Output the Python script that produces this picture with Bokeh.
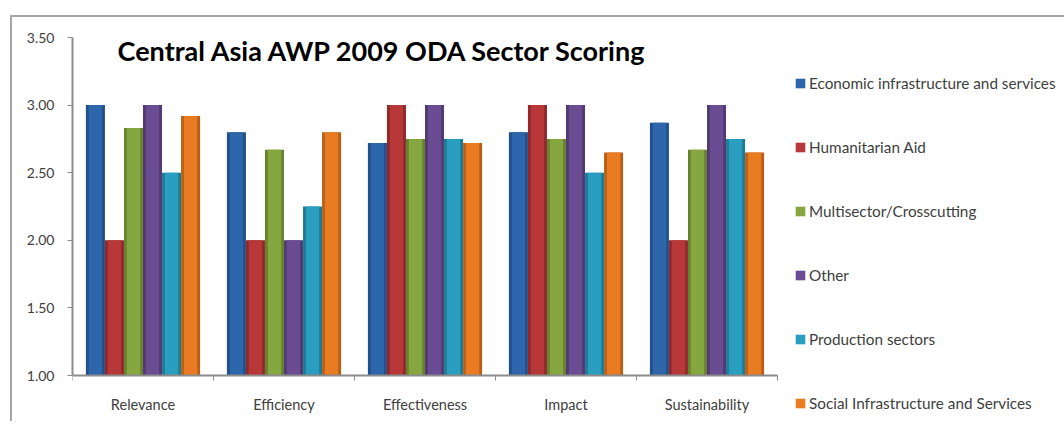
from bokeh.plotting import figure
from bokeh.models import (Range1d, FixedTicker, Legend, LegendItem, Label,
                          ColumnDataSource, NumeralTickFormatter)
from bokeh.layouts import column
from bokeh.embed import file_html
from bokeh.resources import INLINE

title = "Central Asia AWP 2009 ODA Sector Scoring"
categories = ["Relevance", "Efficiency", "Effectiveness", "Impact", "Sustainability"]
series_names = ["Economic infrastructure and services", "Humanitarian Aid",
                "Multisector/Crosscutting", "Other", "Production sectors",
                "Social Infrastructure and Services"]
economic = [3.00, 2.80, 2.72, 2.80, 2.87]
humanitarian = [2.00, 2.00, 3.00, 3.00, 2.00]
multisector = [2.83, 2.67, 2.75, 2.75, 2.67]
other = [3.00, 2.00, 3.00, 3.00, 3.00]
production = [2.50, 2.25, 2.75, 2.50, 2.75]
social = [2.92, 2.80, 2.72, 2.65, 2.65]
series_values = [economic, humanitarian, multisector, other, production, social]
y_ticks = [1.0, 1.5, 2.0, 2.5, 3.0, 3.5]
y_min, y_max = 1.0, 3.5

colors = ["#2E66AC", "#B8383A", "#86A63F", "#6A4C92", "#2A9EBE", "#E97C22"]
dark = ["#22508A", "#8E2A2C", "#68822F", "#523A72", "#1F7C96", "#B95F17"]

FONT = "Lato"
AXIS = "#8c8c8c"
TXT = "#404040"

# layout geometry (pixels)
W, H = 1052, 404
LEFT, TOP = 60, 20
PX_PER_CAT = 141.0
PLOT_H = 338.0
frame_w = W - LEFT
frame_h = H - TOP
px_per_unit = PLOT_H / (y_max - y_min)

p = figure(width=W, height=H, output_backend="svg", toolbar_location=None,
           x_range=Range1d(0, frame_w / PX_PER_CAT),
           y_range=Range1d(y_min - (frame_h - PLOT_H) / px_per_unit, y_max),
           min_border_left=LEFT, min_border_right=0, min_border_top=TOP,
           min_border_bottom=0)
p.outline_line_color = None
p.grid.grid_line_color = None

n = len(series_names)
bw = 0.135
rends = []
for k in range(n):
    off = -bw * (n - 1) / 2 + k * bw
    xs = [i + 0.5 + off for i in range(len(categories))]
    src = ColumnDataSource(dict(x=xs, top=series_values[k]))
    p.vbar(x="x", top="top", bottom=y_min, width=bw, source=src,
           fill_color=dark[k], line_color=None)
    r = p.vbar(x="x", top="top", bottom=y_min, width=bw * 0.7, source=src,
               fill_color=colors[k], line_color=dark[k], line_alpha=0)
    rends.append(r)

p.yaxis.bounds = (y_min, y_max)
p.yaxis.ticker = FixedTicker(ticks=y_ticks)
p.yaxis.formatter = NumeralTickFormatter(format="0.00")
p.yaxis.major_tick_in = 0
p.yaxis.major_tick_out = 5
p.yaxis.minor_tick_line_color = None
p.yaxis.axis_line_color = AXIS
p.yaxis.axis_line_width = 2
p.yaxis.major_tick_line_color = AXIS
p.yaxis.major_label_text_font = FONT
p.yaxis.major_label_text_font_size = "14px"
p.yaxis.major_label_text_color = TXT
p.yaxis.major_label_standoff = 13

centers = [i + 0.5 for i in range(len(categories))]
p.xaxis.fixed_location = y_min
p.xaxis.bounds = (0, len(categories))
p.xaxis.ticker = FixedTicker(ticks=centers, minor_ticks=list(range(len(categories) + 1)))
p.xaxis.major_label_overrides = {c: lab for c, lab in zip(centers, categories)}
p.xaxis.major_tick_line_color = None
p.xaxis.minor_tick_in = 0
p.xaxis.minor_tick_out = 5
p.xaxis.minor_tick_line_color = AXIS
p.xaxis.axis_line_color = AXIS
p.xaxis.axis_line_width = 2
p.xaxis.major_label_text_font = FONT
p.xaxis.major_label_text_font_size = "14.5px"
p.xaxis.major_label_text_color = TXT
p.xaxis.major_label_standoff = 14

p.add_layout(Label(x=0.32, y=3.405, text=title, text_font=FONT,
                   text_font_size="27px", text_font_style="bold",
                   text_color="#000000", text_baseline="alphabetic"))

items = [LegendItem(label=series_names[k], renderers=[rends[k]]) for k in range(n)]
legend = Legend(items=items, location=(722, 8), orientation="vertical",
                glyph_width=12, glyph_height=12, label_height=20,
                spacing=44, padding=6, label_standoff=3, border_line_color=None,
                background_fill_alpha=0, label_text_font=FONT,
                label_text_font_size="15.3px", label_text_color=TXT)
p.add_layout(legend, "center")

layout = column(p, margin=(15, 0, 0, 10),
                styles={"border-top": "2px solid #a6a6a6",
                        "border-left": "2px solid #a6a6a6"})

open("out.html", "w").write(file_html(layout, INLINE))
